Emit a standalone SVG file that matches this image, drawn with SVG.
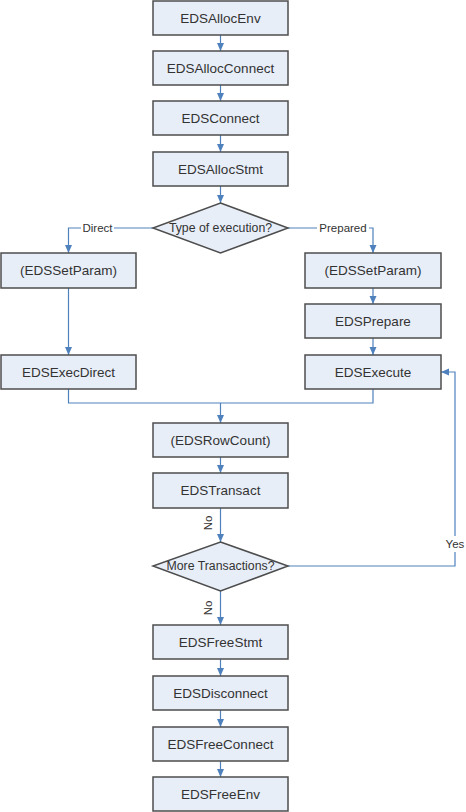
<svg xmlns="http://www.w3.org/2000/svg" width="466" height="812" viewBox="0 0 466 812">
<style>
.box{fill:#E8EEF8;stroke:#4d4d4d;stroke-width:1.5}
.t{font-family:"Liberation Sans",Arial,sans-serif;font-size:13.5px;fill:#333;text-anchor:middle;dominant-baseline:central}
.dl{font-family:"Liberation Sans",Arial,sans-serif;font-size:12.3px;fill:#333;text-anchor:middle;dominant-baseline:central}
.lbl{font-family:"Liberation Sans",Arial,sans-serif;font-size:11.5px;fill:#333;text-anchor:middle;dominant-baseline:central}
.c{fill:none;stroke:#4F81BD;stroke-width:1.2}
.a{marker-end:url(#arr)}
</style>
<defs>
<marker id="arr" viewBox="0 0 8 8" refX="8" refY="4" markerWidth="8" markerHeight="8" markerUnits="userSpaceOnUse" orient="auto">
<path d="M0,0.5 L8,4 L0,7.5 Z" fill="#4F81BD"/>
</marker>
</defs>
<rect width="466" height="812" fill="#fff"/>
<g id="connectors">
<path class="c a" d="M220.5,35 V51"/>
<path class="c a" d="M220.5,85 V101"/>
<path class="c a" d="M220.5,135 V152"/>
<path class="c a" d="M220.5,186 V203"/>
<path class="c a" d="M153,228 H68.5 V253"/>
<path class="c a" d="M288,228 H373 V253"/>
<path class="c a" d="M68.5,288 V355"/>
<path class="c a" d="M373,288 V304"/>
<path class="c a" d="M373,338 V355"/>
<path class="c" d="M68.5,389 V403 H373 V389"/>
<path class="c a" d="M220.5,403 V423"/>
<path class="c a" d="M220.5,457 V473"/>
<path class="c a" d="M220.5,508 V542"/>
<path class="c a" d="M288,566 H455 V372 H441"/>
<path class="c a" d="M220.5,591 V625"/>
<path class="c a" d="M220.5,659 V676"/>
<path class="c a" d="M220.5,710 V727"/>
<path class="c a" d="M220.5,761 V777"/>
<rect x="81" y="221" width="33" height="14" fill="#fff"/>
<text class="lbl" x="97.5" y="228">Direct</text>
<rect x="317" y="221" width="52" height="14" fill="#fff"/>
<text class="lbl" x="343" y="228">Prepared</text>
<rect x="442" y="536" width="26" height="16" fill="#fff"/>
<text class="lbl" x="455" y="544">Yes</text>
<text class="lbl" transform="translate(208,523) rotate(-90)">No</text>
<text class="lbl" transform="translate(208,608) rotate(-90)">No</text>
</g>
<g id="n1"><rect class="box" x="153" y="1" width="135" height="34"/><text class="t" x="220.5" y="18">EDSAllocEnv</text></g>
<g id="n2"><rect class="box" x="153" y="51" width="135" height="34"/><text class="t" x="220.5" y="68">EDSAllocConnect</text></g>
<g id="n3"><rect class="box" x="153" y="101" width="135" height="34"/><text class="t" x="220.5" y="118">EDSConnect</text></g>
<g id="n4"><rect class="box" x="153" y="152" width="135" height="34"/><text class="t" x="220.5" y="169">EDSAllocStmt</text></g>
<g id="d1"><polygon class="box" points="220.5,203 288,228 220.5,253 153,228"/><text class="dl" x="220.5" y="228">Type of execution?</text></g>
<g id="n5"><rect class="box" x="1" y="253" width="135" height="35"/><text class="t" x="68.5" y="270.5">(EDSSetParam)</text></g>
<g id="n6"><rect class="box" x="305" y="253" width="136" height="35"/><text class="t" x="373" y="270.5">(EDSSetParam)</text></g>
<g id="n7"><rect class="box" x="305" y="304" width="136" height="34"/><text class="t" x="373" y="321">EDSPrepare</text></g>
<g id="n8"><rect class="box" x="1" y="355" width="135" height="34"/><text class="t" x="68.5" y="372">EDSExecDirect</text></g>
<g id="n9"><rect class="box" x="305" y="355" width="136" height="34"/><text class="t" x="373" y="372">EDSExecute</text></g>
<g id="n10"><rect class="box" x="153" y="423" width="135" height="34"/><text class="t" x="220.5" y="440">(EDSRowCount)</text></g>
<g id="n11"><rect class="box" x="153" y="473" width="135" height="35"/><text class="t" x="220.5" y="490.5">EDSTransact</text></g>
<g id="d2"><polygon class="box" points="220.5,542 288,566 220.5,591 153,566"/><text class="dl" x="220.5" y="566">More Transactions?</text></g>
<g id="n12"><rect class="box" x="153" y="625" width="135" height="34"/><text class="t" x="220.5" y="642">EDSFreeStmt</text></g>
<g id="n13"><rect class="box" x="153" y="676" width="135" height="34"/><text class="t" x="220.5" y="693">EDSDisconnect</text></g>
<g id="n14"><rect class="box" x="153" y="727" width="135" height="34"/><text class="t" x="220.5" y="744">EDSFreeConnect</text></g>
<g id="n15"><rect class="box" x="153" y="777" width="135" height="34"/><text class="t" x="220.5" y="794">EDSFreeEnv</text></g>
</svg>
